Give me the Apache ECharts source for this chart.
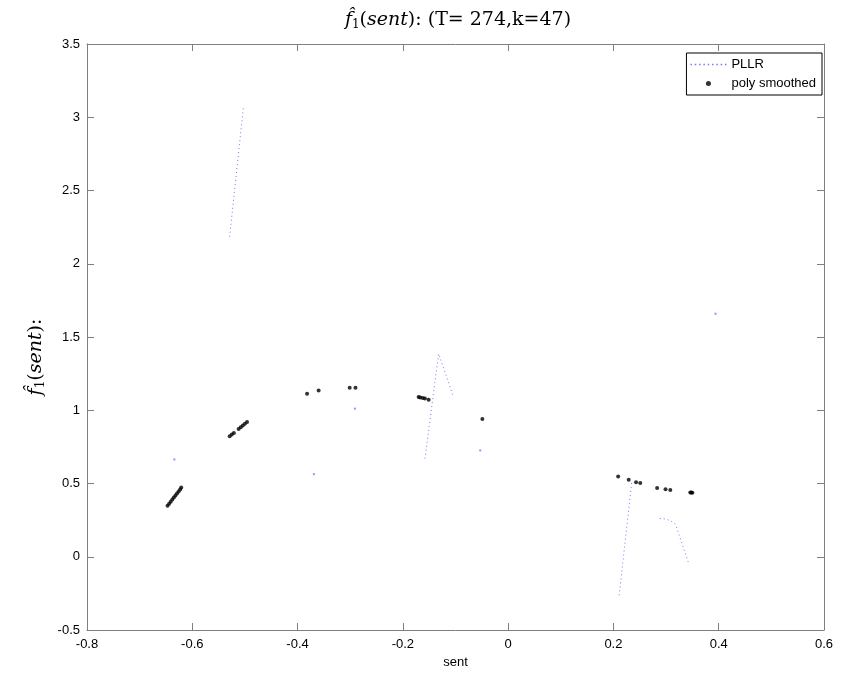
<!DOCTYPE html>
<html>
<head>
<meta charset="utf-8">
<script src="https://cdn.jsdelivr.net/npm/echarts@6/dist/echarts.min.js"></script>
<style>
html,body{margin:0;padding:0;background:#fff;}
#chart{width:847px;height:680px;}
</style>
</head>
<body>
<div id="chart"></div>
<script>
// ---- data ----
const xTicks = [-0.8, -0.6, -0.4, -0.2, 0, 0.2, 0.4, 0.6];
const yTicks = [-0.5, 0, 0.5, 1, 1.5, 2, 2.5, 3, 3.5];

// PLLR dotted segments
const pllrSegA = [[-0.529, 2.185], [-0.503, 3.065]];
const pllrSegB = [[-0.158, 0.670], [-0.132, 1.386], [-0.105, 1.102]];
const pllrSegC = [[0.211, -0.263], [0.235, 0.517]];
const pllrSegD = [[0.288, 0.261], [0.300, 0.258], [0.310, 0.242], [0.318, 0.221], [0.342, -0.035]];
// PLLR isolated points
const pllrDotsX = [-0.634, -0.369, -0.291, -0.053, 0.394];
const pllrDotsY = [0.664, 0.564, 1.011, 0.726, 1.659];

// poly smoothed points
const polyX = [-0.647, -0.644, -0.641, -0.638, -0.635, -0.632, -0.629, -0.626, -0.623, -0.621,
               -0.529, -0.525, -0.521, -0.512, -0.508, -0.504, -0.500, -0.496,
               -0.382, -0.360, -0.301, -0.290, -0.170, -0.167, -0.162, -0.158, -0.151, -0.049,
               0.209, 0.229, 0.243, 0.251, 0.283, 0.299, 0.308, 0.346, 0.348, 0.350];
const polyY = [0.348, 0.362, 0.376, 0.391, 0.404, 0.418, 0.431, 0.445, 0.459, 0.473,
               0.823, 0.834, 0.845, 0.872, 0.884, 0.896, 0.908, 0.919,
               1.113, 1.134, 1.154, 1.154, 1.090, 1.087, 1.083, 1.080, 1.072, 0.940,
               0.547, 0.526, 0.508, 0.503, 0.469, 0.460, 0.456, 0.439, 0.438, 0.437];

const pllrColor = '#7878ff';
const serif = '"DejaVu Serif", "Liberation Serif", serif';
const sans = '"Liberation Sans", Arial, sans-serif';

const chart = echarts.init(document.getElementById('chart'), null, {renderer: 'canvas'});

function pllrLine(seg) {
  return {
    name: 'PLLR', type: 'line', data: seg, symbol: 'none', showSymbol: false,
    lineStyle: {color: pllrColor, width: 1, type: [1, 3]},
    itemStyle: {color: pllrColor}, animation: false, z: 2
  };
}

const rich = {
  i: {fontFamily: serif, fontStyle: 'italic', fontWeight: 'normal', fontSize: 19, color: '#000'},
  s: {fontFamily: serif, fontWeight: 'normal', fontSize: 12, color: '#000', verticalAlign: 'bottom', padding: [9, 0, 0, 0]},
  n: {fontFamily: serif, fontWeight: 'normal', fontSize: 19, color: '#000'}
};

const axisLineStyle = {onZero: false, lineStyle: {color: '#7f7f7f', width: 1}};
const tickStyle = {inside: true, length: 7, lineStyle: {color: '#7f7f7f'}};

// dotted-line legend icon (a row of small squares)
let dotIcon = 'path://';
for (let k = 0; k < 9; k++) { dotIcon += 'M' + (k * 4) + ',0h1.4v1.4h-1.4z'; }

chart.setOption({
  backgroundColor: '#fff',
  animation: false,
  title: {
    text: '{i|f\u0302}{s|1}{n|(}{i|sent}{n|): (T= 274,k=47)}',
    left: 453, top: 5, textAlign: 'center',
    textStyle: {rich: rich, fontFamily: serif, fontSize: 19, fontWeight: 'normal'}
  },
  legend: {
    orient: 'vertical', right: 25, top: 53,
    borderColor: '#000', borderWidth: 1, backgroundColor: '#fff',
    padding: [5, 6, 5, 4], itemGap: 6, itemWidth: 36, itemHeight: 5,
    textStyle: {fontFamily: sans, fontSize: 13, color: '#000'},
    data: [{name: 'PLLR', icon: dotIcon, itemStyle: {color: pllrColor}},
           {name: 'poly smoothed', icon: 'circle'}]
  },
  grid: {left: 87, right: 23, top: 44, bottom: 50, containLabel: false},
  xAxis: [{
    type: 'value', min: -0.8, max: 0.6, interval: 0.2, position: 'bottom',
    name: 'sent', nameLocation: 'middle', nameGap: 26,
    nameTextStyle: {fontFamily: sans, fontSize: 13, color: '#000'},
    axisLine: axisLineStyle, axisTick: tickStyle,
    axisLabel: {fontFamily: sans, fontSize: 13, color: '#000', margin: 8,
      formatter: v => String(+v.toFixed(1))},
    splitLine: {show: false}
  }, {
    type: 'value', min: -0.8, max: 0.6, interval: 0.2, position: 'top',
    axisLine: axisLineStyle, axisTick: tickStyle, axisLabel: {show: false},
    splitLine: {show: false}
  }],
  yAxis: [{
    type: 'value', min: -0.5, max: 3.5, interval: 0.5, position: 'left',
    name: '{i|f\u0302}{s|1}{n|(}{i|sent}{n|):}', nameLocation: 'middle', nameGap: 40, nameRotate: 90,
    nameTextStyle: {rich: rich, fontFamily: serif, fontSize: 19, padding: [0, 40, 0, 0]},
    axisLine: axisLineStyle, axisTick: tickStyle,
    axisLabel: {fontFamily: sans, fontSize: 13, color: '#000', margin: 7,
      formatter: v => String(+v.toFixed(1))},
    splitLine: {show: false}
  }, {
    type: 'value', min: -0.5, max: 3.5, interval: 0.5, position: 'right',
    axisLine: axisLineStyle, axisTick: tickStyle, axisLabel: {show: false},
    splitLine: {show: false}
  }],
  series: [
    pllrLine(pllrSegA), pllrLine(pllrSegB), pllrLine(pllrSegC), pllrLine(pllrSegD),
    {
      name: 'PLLR-dots', type: 'scatter', symbol: 'rect', symbolSize: 2,
      data: pllrDotsX.map((x, i) => [x, pllrDotsY[i]]),
      itemStyle: {color: pllrColor, opacity: 0.8}, z: 2
    },
    {
      name: 'poly smoothed', type: 'scatter', symbol: 'circle', symbolSize: 4,
      data: polyX.map((x, i) => [x, polyY[i]]),
      itemStyle: {color: '#000'}, z: 3
    }
  ]
});
</script>
</body>
</html>
